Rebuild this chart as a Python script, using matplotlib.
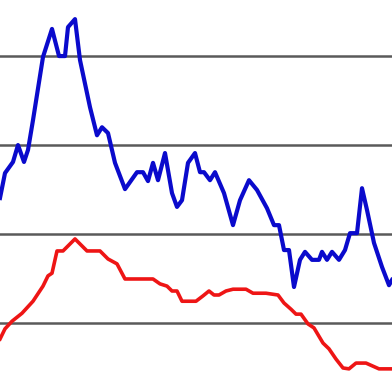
import matplotlib
matplotlib.use("Agg")
import matplotlib.pyplot as plt

# sample positions (days) and readings for the two series
blue_x = [0, 5, 13, 18, 24, 28, 33, 43, 52, 59, 65, 68, 75, 80, 90, 97, 102, 108, 115, 125,
          137, 143, 148, 153, 158, 165, 172, 177, 182, 188, 195, 200, 204, 210, 215, 224, 233,
          240, 249, 257, 267, 274, 279, 284, 289, 294, 300, 305, 312, 319, 322, 327, 332, 339,
          345, 350, 357, 362, 367, 374, 382, 389, 392]
blue_y = [48.1, 53.7, 56.2, 60.0, 56.2, 58.9, 65.6, 79.8, 86.1, 80.0, 80.0, 86.5, 88.3, 79.1,
          68.5, 62.2, 64.0, 62.7, 56.0, 50.1, 53.9, 53.9, 51.9, 56.0, 52.1, 58.2, 49.2, 46.1,
          47.6, 56.0, 58.2, 53.9, 53.9, 52.1, 53.9, 49.2, 42.0, 47.6, 52.1, 49.9, 45.8, 42.0,
          42.0, 36.4, 36.4, 28.1, 34.2, 36.0, 34.2, 34.2, 36.0, 34.2, 36.0, 34.2, 36.4, 40.2,
          40.2, 50.3, 45.4, 38.0, 32.6, 28.5, 29.7]

red_x = [0, 5, 12, 22, 33, 43, 48, 52, 57, 63, 75, 87, 100, 108, 117, 125, 133, 153, 160, 167,
         172, 177, 182, 187, 196, 203, 209, 214, 219, 226, 233, 246, 253, 266, 278, 284, 291,
         296, 301, 308, 314, 323, 329, 336, 343, 349, 356, 366, 373, 379, 392]
red_y = [16.4, 18.7, 20.4, 22.2, 24.9, 28.3, 30.6, 31.2, 36.2, 36.2, 38.9, 36.2, 36.2, 34.4,
         33.3, 29.9, 29.9, 29.9, 28.8, 28.3, 27.2, 27.2, 24.9, 24.9, 24.9, 26.1, 27.2, 26.3,
         26.3, 27.2, 27.6, 27.6, 26.7, 26.7, 26.3, 24.5, 23.1, 22.0, 22.0, 19.8, 18.9, 15.5,
         14.2, 11.9, 9.9, 9.7, 11.0, 11.0, 10.3, 9.7, 9.7]

grid_levels = [20, 40, 60, 80]

fig = plt.figure(figsize=(3.92, 3.92), dpi=100)
ax = fig.add_axes([0, 0, 1, 1])

for lvl in grid_levels:
    ax.axhline(lvl, color="#5a5a5a", lw=1.8, zorder=1)

ax.plot(blue_x, blue_y, color="#0a0acc", lw=3.0, solid_joinstyle="round", zorder=3)
ax.plot(red_x, red_y, color="#ee1515", lw=2.6, solid_joinstyle="round", zorder=3)

ax.set_xlim(0, 392)
ax.set_ylim(4.5, 92.6)
ax.axis("off")

fig.savefig("out.png", dpi=100, facecolor="white")
